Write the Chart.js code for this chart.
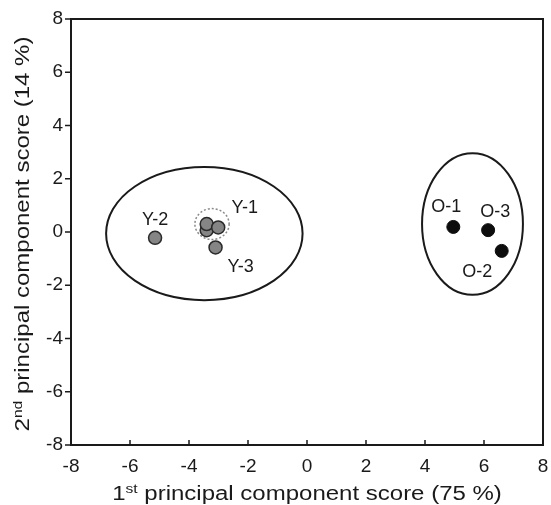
<!DOCTYPE html>
<html>
<head>
<meta charset="utf-8">
<script src="https://cdn.jsdelivr.net/npm/chart.js@4.4.1/dist/chart.umd.min.js"></script>
<style>
  body { margin: 0; background: #fff; }
  #wrap { width: 551px; height: 505px; }
</style>
</head>
<body>
<div id="wrap"><canvas id="pcaChart" width="551" height="505"></canvas></div>
<script>
// scores (PC1, PC2)
const youngX = [-3.40, -3.40, -3.01, -5.15, -3.10];
const youngY = [0.07, 0.30, 0.17, -0.22, -0.58];
const oldX = [4.96, 6.60, 6.14];
const oldY = [0.19, -0.71, 0.07];

const sampleNames = ['Y-1', 'Y-2', 'Y-3', 'O-1', 'O-2', 'O-3'];
const nameX = [-2.11, -5.15, -2.25, 4.72, 5.77, 6.38];
const nameY = [0.90, 0.45, -1.32, 0.93, -1.51, 0.75];

// group ellipses: centre and half axes in score units
const ellipseCx = [-3.48, 5.61];
const ellipseCy = [-0.06, 0.30];
const ellipseRx = [3.33, 1.71];
const ellipseRy = [2.50, 2.66];

// dotted ring around the Y-1 replicates
const ringCx = -3.22, ringCy = 0.30, ringRx = 0.58, ringRy = 0.58;

const tickValues = [-8, -6, -4, -2, 0, 2, 4, 6, 8];

const FONT = 'Liberation Sans, Arial, sans-serif';
const INK = '#1a1a1a';

function toPoints(xs, ys){
    return xs.map((v, i) => ({x: v, y: ys[i]}));
}

const decorations = {
    id: 'decorations',
    beforeDatasetsDraw(chart){
        const ctx = chart.ctx;
        const a = chart.chartArea;
        const sx = chart.scales.x, sy = chart.scales.y;
        ctx.save();

        // ellipses
        ctx.strokeStyle = INK;
        ctx.lineWidth = 2;
        for(let i = 0; i < ellipseCx.length; i++){
            const cx = sx.getPixelForValue(ellipseCx[i]);
            const cy = sy.getPixelForValue(ellipseCy[i]);
            const rx = Math.abs(sx.getPixelForValue(ellipseCx[i] + ellipseRx[i]) - cx);
            const ry = Math.abs(sy.getPixelForValue(ellipseCy[i] + ellipseRy[i]) - cy);
            ctx.beginPath();
            ctx.ellipse(cx, cy, rx, ry, 0, 0, Math.PI * 2);
            ctx.stroke();
        }

        // dotted ring
        const rcx = sx.getPixelForValue(ringCx), rcy = sy.getPixelForValue(ringCy);
        const rrx = Math.abs(sx.getPixelForValue(ringCx + ringRx) - rcx);
        const rry = Math.abs(sy.getPixelForValue(ringCy + ringRy) - rcy);
        ctx.setLineDash([2, 2]);
        ctx.strokeStyle = '#8a8a8a';
        ctx.lineWidth = 1.5;
        ctx.beginPath();
        ctx.ellipse(rcx, rcy, rrx, rry, 0, 0, Math.PI * 2);
        ctx.stroke();
        ctx.setLineDash([]);

        // frame
        ctx.strokeStyle = INK;
        ctx.lineWidth = 2;
        ctx.strokeRect(a.left, a.top, a.right - a.left, a.bottom - a.top);

        // ticks: outward on y, inward on x
        ctx.lineWidth = 1.5;
        ctx.beginPath();
        tickValues.forEach(v => {
            const py = sy.getPixelForValue(v);
            ctx.moveTo(a.left - 6, py);
            ctx.lineTo(a.left, py);
            const px = sx.getPixelForValue(v);
            ctx.moveTo(px, a.bottom);
            ctx.lineTo(px, a.bottom - 5);
        });
        ctx.stroke();
        ctx.restore();
    },
    afterDatasetsDraw(chart){
        const ctx = chart.ctx;
        const a = chart.chartArea;
        const sx = chart.scales.x, sy = chart.scales.y;
        ctx.save();
        ctx.fillStyle = INK;

        // sample names
        ctx.font = '18px ' + FONT;
        ctx.textAlign = 'center';
        ctx.textBaseline = 'middle';
        sampleNames.forEach((n, i) => {
            ctx.fillText(n, sx.getPixelForValue(nameX[i]), sy.getPixelForValue(nameY[i]));
        });

        // axis titles with superscripts
        drawTitle(ctx, '1', 'st', ' principal component score (75 %)', (a.left + a.right) / 2, 500, 0);
        drawTitle(ctx, '2', 'nd', ' principal component score (14 %)', 29, (a.top + a.bottom) / 2 + 2, -Math.PI / 2);
        ctx.restore();
    }
};

// the source lettering is wide, so titles are stretched along the baseline
function drawTitle(ctx, lead, sup, rest, cx, cy, angle){
    const big = '20px ' + FONT, small = '13px ' + FONT;
    ctx.save();
    ctx.translate(cx, cy);
    ctx.rotate(angle);
    ctx.scale(1.2, 1);
    ctx.textAlign = 'left';
    ctx.textBaseline = 'alphabetic';
    ctx.font = big;
    const w1 = ctx.measureText(lead).width;
    const w3 = ctx.measureText(rest).width;
    ctx.font = small;
    const w2 = ctx.measureText(sup).width;
    let x = -(w1 + w2 + w3) / 2;
    ctx.font = big;
    ctx.fillText(lead, x, 0);
    x += w1;
    ctx.font = small;
    ctx.fillText(sup, x, -7);
    x += w2;
    ctx.font = big;
    ctx.fillText(rest, x, 0);
    ctx.restore();
}

new Chart(document.getElementById('pcaChart').getContext('2d'), {
    type: 'scatter',
    data: {
        datasets: [{
            label: 'Young',
            data: toPoints(youngX, youngY),
            backgroundColor: '#858585',
            borderColor: '#2a2a2a',
            borderWidth: 1.5,
            pointRadius: 6.5
        }, {
            label: 'Old',
            data: toPoints(oldX, oldY),
            backgroundColor: '#0d0d0d',
            borderColor: '#0d0d0d',
            borderWidth: 1,
            pointRadius: 6.5
        }]
    },
    options: {
        responsive: false,
        animation: false,
        layout: { padding: { top: 19, right: 7, left: 0, bottom: 0 } },
        plugins: { legend: { display: false }, tooltip: { enabled: false } },
        scales: {
            x: {
                type: 'linear',
                min: -8, max: 8,
                afterBuildTicks: s => { s.ticks = tickValues.map(v => ({value: v})); },
                afterFit: s => { s.height = 60; s.paddingLeft = 0; s.paddingRight = 0; },
                grid: { display: false, drawTicks: false },
                border: { display: false },
                ticks: { color: INK, padding: 10, font: { size: 19, family: FONT } }
            },
            y: {
                type: 'linear',
                min: -8, max: 8,
                afterBuildTicks: s => { s.ticks = tickValues.map(v => ({value: v})); },
                afterFit: s => { s.width = 71; s.paddingTop = 0; s.paddingBottom = 0; },
                grid: { display: false, drawTicks: false },
                border: { display: false },
                ticks: { color: INK, padding: 8, font: { size: 19, family: FONT } }
            }
        }
    },
    plugins: [decorations]
});
</script>
</body>
</html>
